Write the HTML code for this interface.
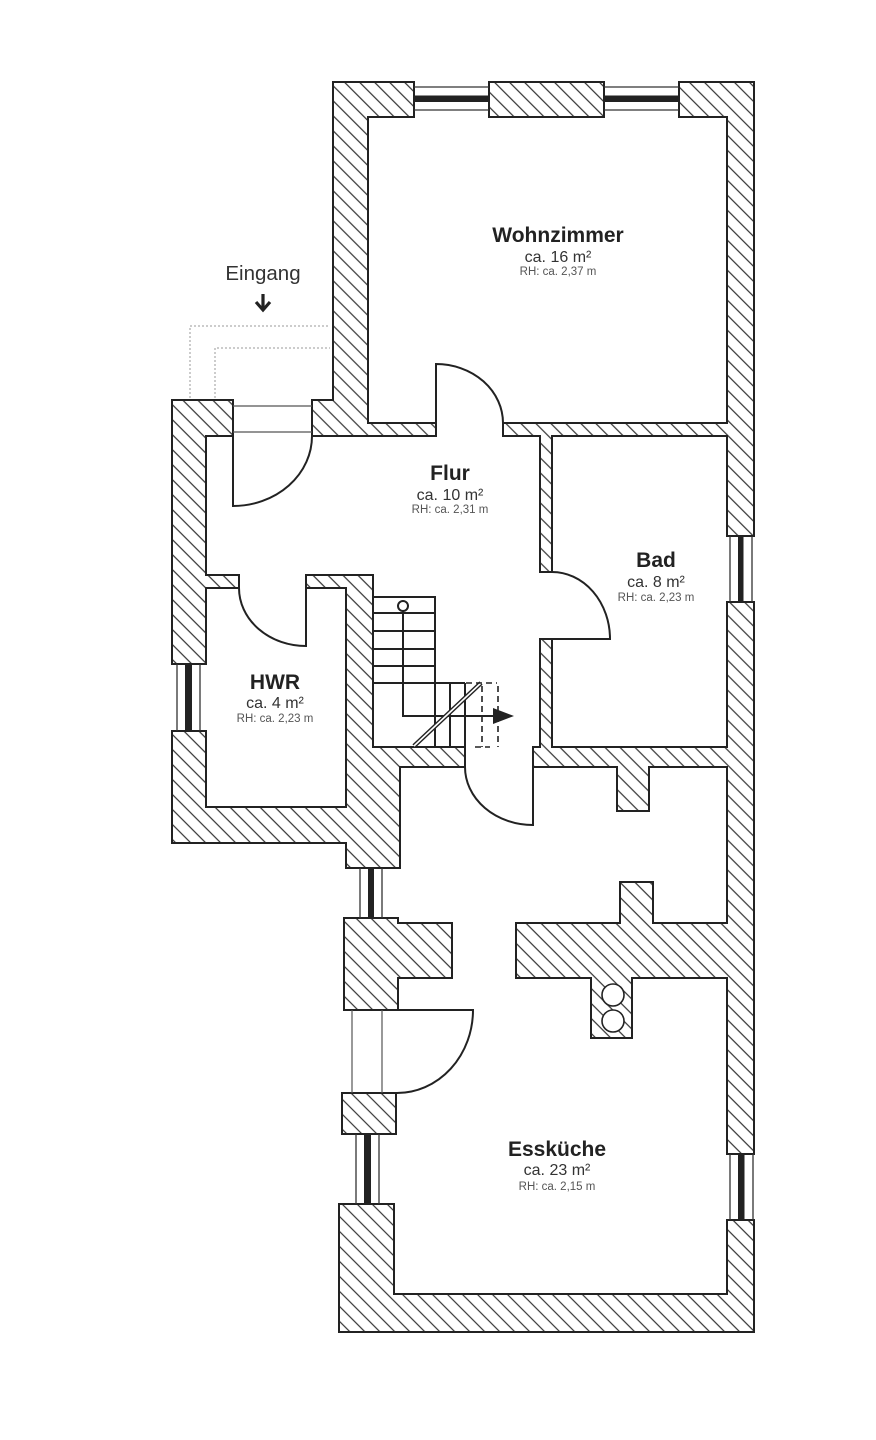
<!DOCTYPE html>
<html><head><meta charset="utf-8"><style>
html,body{margin:0;padding:0;background:#fff;}
svg{display:block;}
text{font-family:"Liberation Sans",Arial,sans-serif;text-anchor:middle;}
.t{font-weight:bold;font-size:21px;fill:#222;}
.a{font-size:16px;fill:#333;}
.r{font-size:11.5px;fill:#555;}
</style></head><body>
<svg width="876" height="1440" viewBox="0 0 876 1440" xmlns="http://www.w3.org/2000/svg">
<defs>
<pattern id="h" patternUnits="userSpaceOnUse" width="20" height="10.6" patternTransform="rotate(45)">
<line x1="-1" y1="5.3" x2="21" y2="5.3" stroke="#333" stroke-width="1.2"/>
</pattern>
</defs>
<rect width="876" height="1440" fill="#fff"/>

<!-- dotted entrance outline -->
<g fill="none" stroke="#999" stroke-width="1" stroke-dasharray="2,2">
<path d="M190,398 L190,326 L330,326"/>
<path d="M215,398 L215,348 L330,348"/>
</g>

<!-- walls -->
<g fill="url(#h)" stroke="#222" stroke-width="2" stroke-linejoin="miter">
<path d="M172,400 L233,400 L233,436 L206,436 L206,575 L239,575 L239,588 L206,588 L206,664 L172,664 Z"/>
<path d="M306,575 L373,575 L373,747 L465,747 L465,767 L400,767 L400,868 L346,868 L346,843 L172,843 L172,731 L206,731 L206,807 L346,807 L346,588 L306,588 Z"/>
<path d="M333,82 L414,82 L414,117 L368,117 L368,423 L436,423 L436,436 L312,436 L312,400 L333,400 Z"/>
<path d="M489,82 L604,82 L604,117 L489,117 Z"/>
<path d="M679,82 L754,82 L754,536 L727,536 L727,436 L552,436 L552,572 L540,572 L540,436 L503,436 L503,423 L727,423 L727,117 L679,117 Z"/>
<path d="M727,602 L754,602 L754,1154 L727,1154 L727,978 L632,978 L632,1038 L591,1038 L591,978 L516,978 L516,923 L620,923 L620,882 L653,882 L653,923 L727,923 L727,767 L649,767 L649,811 L617,811 L617,767 L533,767 L533,747 L540,747 L540,639 L552,639 L552,747 L727,747 Z"/>
<path d="M727,1220 L754,1220 L754,1332 L339,1332 L339,1204 L394,1204 L394,1294 L727,1294 Z"/>
<path d="M342,1093 L396,1093 L396,1134 L342,1134 Z"/>
<path d="M344,918 L398,918 L398,923 L452,923 L452,978 L398,978 L398,1010 L344,1010 Z"/>
</g>

<!-- chimney flues -->
<g fill="#fff" stroke="#222" stroke-width="1.6">
<circle cx="613" cy="995" r="11"/>
<circle cx="613" cy="1021" r="11"/>
</g>

<!-- windows -->
<g stroke="#333" stroke-width="1.3">
<line x1="414" y1="87" x2="489" y2="87"/><line x1="414" y1="110" x2="489" y2="110"/>
<line x1="604" y1="87" x2="679" y2="87"/><line x1="604" y1="110" x2="679" y2="110"/>
<line x1="730" y1="536" x2="730" y2="602"/><line x1="752" y1="536" x2="752" y2="602"/>
<line x1="730" y1="1154" x2="730" y2="1220"/><line x1="753" y1="1154" x2="753" y2="1220"/>
<line x1="177" y1="664" x2="177" y2="731"/><line x1="200" y1="664" x2="200" y2="731"/>
<line x1="360" y1="868" x2="360" y2="918"/><line x1="382" y1="868" x2="382" y2="918"/>
<line x1="356" y1="1134" x2="356" y2="1204"/><line x1="379" y1="1134" x2="379" y2="1204"/>
</g>
<g fill="#222">
<rect x="414" y="95.5" width="75" height="6.5"/>
<rect x="604" y="95.5" width="75" height="6.5"/>
<rect x="738" y="536" width="5.5" height="66"/>
<rect x="738" y="1154" width="6.5" height="66"/>
<rect x="185" y="664" width="7" height="67"/>
<rect x="368" y="868" width="6" height="50"/>
<rect x="364" y="1134" width="7" height="70"/>
</g>

<!-- door frames -->
<g stroke="#555" stroke-width="1.2">
<line x1="233" y1="406" x2="312" y2="406"/>
<line x1="233" y1="432" x2="312" y2="432"/>
<line x1="352" y1="1010" x2="352" y2="1093"/>
<line x1="382" y1="1010" x2="382" y2="1093"/>
</g>

<!-- doors -->
<g fill="none" stroke="#222" stroke-width="2">
<path d="M233,436 L233,506 A79,70 0 0 0 312,436"/>
<path d="M436,423 L436,364 A67,59 0 0 1 503,423"/>
<path d="M306,588 L306,646 A67,58 0 0 1 239,588"/>
<path d="M552,639 L610,639 A58,67 0 0 0 552,572"/>
<path d="M533,767 L533,825 A68,58 0 0 1 465,767"/>
<path d="M397,1010 L473,1010 A76,83 0 0 1 397,1093"/>
</g>

<!-- stairs -->
<g fill="none" stroke="#222" stroke-width="2">
<path d="M373,597 L435,597 L435,747"/>
<line x1="373" y1="613" x2="435" y2="613"/>
<line x1="373" y1="631" x2="435" y2="631"/>
<line x1="373" y1="649" x2="435" y2="649"/>
<line x1="373" y1="666" x2="435" y2="666"/>
<line x1="373" y1="683" x2="465" y2="683"/>
<line x1="450" y1="683" x2="450" y2="747"/>
<line x1="465" y1="683" x2="465" y2="747"/>
<path d="M403,611 L403,716 L495,716"/>
<circle cx="403" cy="606" r="5" stroke-width="2"/>
</g>
<polygon points="493,708 514,716 493,724" fill="#222"/>
<line x1="414" y1="746" x2="481" y2="683" stroke="#222" stroke-width="4.5"/>
<line x1="414" y1="746" x2="481" y2="683" stroke="#fff" stroke-width="1.6"/>
<g fill="none" stroke="#222" stroke-width="1.6" stroke-dasharray="6,4">
<line x1="466" y1="683" x2="497" y2="683"/>
<line x1="482" y1="686" x2="482" y2="747"/>
<line x1="498" y1="686" x2="498" y2="747"/>
<line x1="475" y1="747" x2="490" y2="747"/>
</g>

<!-- entrance label -->
<text x="263" y="280" style="font-size:20.5px;fill:#333;">Eingang</text>
<g stroke="#222" stroke-width="3.2" fill="none" stroke-linecap="butt">
<line x1="263" y1="294" x2="263" y2="309"/>
<path d="M256,302 L263,310 L270,302"/>
</g>

<!-- room labels -->
<text class="t" x="558" y="242">Wohnzimmer</text>
<text class="a" x="558" y="262">ca. 16 m²</text>
<text class="r" x="558" y="275">RH: ca. 2,37 m</text>

<text class="t" x="450" y="480">Flur</text>
<text class="a" x="450" y="500">ca. 10 m²</text>
<text class="r" x="450" y="513">RH: ca. 2,31 m</text>

<text class="t" x="656" y="567">Bad</text>
<text class="a" x="656" y="587">ca. 8 m²</text>
<text class="r" x="656" y="601">RH: ca. 2,23 m</text>

<text class="t" x="275" y="689">HWR</text>
<text class="a" x="275" y="708">ca. 4 m²</text>
<text class="r" x="275" y="722">RH: ca. 2,23 m</text>

<text class="t" x="557" y="1156">Essküche</text>
<text class="a" x="557" y="1175">ca. 23 m²</text>
<text class="r" x="557" y="1190">RH: ca. 2,15 m</text>
</svg>
</body></html>
